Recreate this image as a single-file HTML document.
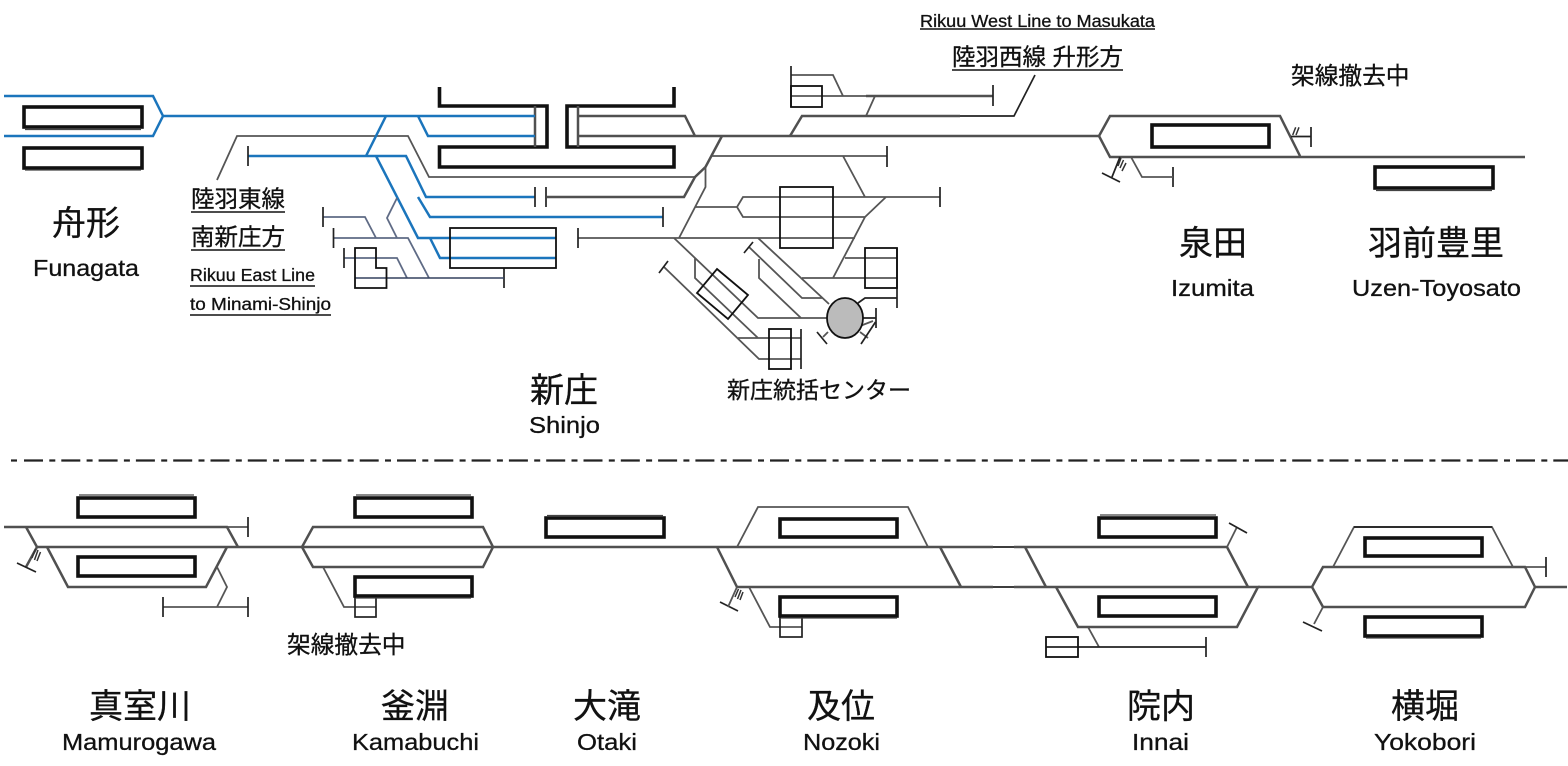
<!DOCTYPE html>
<html><head><meta charset="utf-8"><style>
html,body{margin:0;padding:0;background:#fff}
svg{display:block}
text{font-family:"Liberation Sans","Noto Sans CJK JP",sans-serif;fill:#111;stroke:#111;stroke-width:.3;text-anchor:start}
.g{fill:none;stroke:#505050;stroke-width:2.500}
.t{fill:none;stroke:#555;stroke-width:1.800}
.k{fill:none;stroke:#222;stroke-width:1.700}
.b{fill:none;stroke:#1b75bc;stroke-width:2.500}
.n{fill:none;stroke:#5f6b85;stroke-width:1.800}
.r{fill:none;stroke:#111;stroke-width:1.800}
.p{fill:none;stroke:#111;stroke-width:3.600}
.h{fill:none;stroke:#444;stroke-width:1.300}
.s{fill:none;stroke:#333;stroke-width:1.500}
.u{stroke:#111;stroke-width:1.600}
</style></head><body>
<svg width="1568" height="766" viewBox="0 0 1568 766" xmlns="http://www.w3.org/2000/svg">
<!-- Funagata platforms -->
<rect class="p" x="24" y="107" width="118" height="20"/><path class="h" d="M25 129.500H141"/>
<rect class="p" x="24" y="148" width="118" height="20"/><path class="h" d="M25 170H141"/>
<!-- Shinjo platforms -->
<path class="p" d="M439.500 87V106H547V147H439.500V167H674V147H567V106H674V87"/>
<!-- Gray lines west -->
<path class="t" d="M217 180L237 136H408L429 177H695"/>
<path class="g" d="M535 106V147M578 106V147"/>
<!-- Blue -->
<path class="b" d="M4 96H153L163 116L153 136H4M163 116H535M386 116L366 156M418 116L428 136H535M248 156H406L426 197H535M376 156L418 238H556M430 238L440 258H556M418 197L430 217H663"/>
<path class="k" d="M248 146V166M535 187V207M663 207V227"/>
<!-- Blue-grey sidings -->
<path class="n" d="M323 217H365L376 238M333 238H408L429 278M344 258H397L407 278M397 198L387 218L397 238"/>
<path class="k" d="M323 207V227M333.500 228V248M344 248V268M504 268V288"/>
<path style="fill:none;stroke:#33415f;stroke-width:1.500" d="M355 278H504"/>
<rect class="r" x="450" y="228" width="106" height="40"/>
<path class="r" d="M355 248H376V268H386.500V288H355Z"/>
<!-- Main line centre -->
<path class="g" d="M578 136H1099L1110 116H1280L1300 156M1099 136L1110 157H1525M578 116H685L695 136"/>
<path class="g" d="M722 136L705.500 167L695 177L684 197H547"/>
<path class="k" d="M546 187V207"/>
<path class="t" d="M712 156H887M843 156L865 197H940M886 197L865 217H743L737 207L743 197H865M705.500 167V187L679 238M695 207H737M865 217L833 278M578 238H855M845 258H897M802 278H897"/>
<path class="k" d="M887 146V167M940 187V207M578 228V248M897 248V308M876 308V328"/>
<path class="k" d="M858 303L865 298H897"/>
<rect class="r" x="780" y="187" width="53" height="61"/>
<rect class="r" x="865" y="248" width="32" height="40"/>
<!-- South yard -->
<path class="t" d="M674 238L758 318H828M758 238L829 304M749 247L802 298H823M759 259V278L801 318M695 258V278L758 338H801M664 267L759 359H801M738 338H758"/>
<path class="k" d="M744 253L753 242M659 273L668 261M801 329V369M876 318H862"/>
<path class="r" d="M717 269L748 295L728 319L697 293Z"/>
<rect class="r" x="769" y="329" width="22" height="40"/>
<path class="t" d="M860 326L873 321M860 332L868 338M828 332L823 337"/>
<path class="k" d="M875.500 322L861 344M817 332L827 344"/>
<ellipse cx="845" cy="318" rx="18" ry="20" fill="#bbb" stroke="#111" stroke-width="1.800"/>
<!-- North branch -->
<path class="t" d="M791 75H833L843 96M791 96H915M875 96L866 116"/>
<path class="g" d="M790 136L802 116H960M866 96H993"/>
<path class="k" d="M960 116H1014L1035 75"/>
<path class="k" d="M791 66V107M993 85V106"/>
<rect class="r" x="791" y="86" width="31" height="21"/>
<!-- Izumita -->
<rect class="p" x="1152" y="125" width="117" height="22"/>
<path class="s" d="M1295.700 127.300L1292.700 135M1299 127.300L1296 135M1121 158L1118 166M1123.500 160L1120 168M1126 163L1122 171"/>
<path class="k" d="M1291 136.500H1311M1311 127V147M1102 173L1120 182M1120 157L1112 177M1173 167V187"/>
<path class="t" d="M1131 157L1142 177H1173"/>
<rect class="p" x="1375" y="167" width="118" height="21"/><path class="h" d="M1376 190.500H1492"/>
<!-- Divider -->
<path d="M11 460.500H17" stroke="#222" stroke-width="2.200"/>
<path d="M24 460.500H1568" stroke="#222" stroke-width="2.200" stroke-dasharray="19 6.300 6 6"/>
<!-- Mamurogawa -->
<path class="g" d="M4 527H227L238 547M37 547H717M26 527L37 547L26 567M47 547L68 587H206L227 547"/>
<path class="t" d="M227 527H248M217 567L227 587L217 607M163 607H248"/>
<path class="k" d="M248 517V537M163 597V617M248 597V617M17 563L36 572"/>
<path class="s" d="M35.500 549L32 558M38 550L34.500 560M40.500 552L37 561"/>
<rect class="p" x="78" y="498" width="117" height="19"/><path class="h" d="M79 495H194"/>
<rect class="p" x="78" y="557" width="117" height="19"/>
<!-- Kamabuchi -->
<path class="g" d="M302 547L313 527H483L493 547L483 567H313L302 547"/>
<path class="t" d="M323 567L344 607H376"/>
<rect class="k" x="355" y="597" width="21" height="20"/>
<rect class="p" x="355" y="498" width="117" height="19"/><path class="h" d="M356 495H471"/>
<rect class="p" x="355" y="577" width="117" height="19"/><path class="h" d="M356 598H471"/>
<!-- Otaki -->
<rect class="p" x="546" y="518" width="118" height="19"/><path class="h" d="M547 515.500H663"/>
<!-- Nozoki / Innai -->
<path class="g" d="M717 547H993M1014 547H1227L1248 587M717 547L737 587H993M1014 587H1258L1237 627H1078L1056 587M940 547L961 587M1025 547L1046 587"/>
<path class="k" d="M993 547H1014M993 587H1014"/>
<path class="t" d="M737 547L758 507H908L928 547M749 587L770 627H802"/>
<rect class="k" x="780" y="617" width="22" height="20"/>
<rect class="p" x="780" y="519" width="117" height="18"/>
<rect class="p" x="780" y="597" width="117" height="19"/><path class="h" d="M781 618H897"/>
<path class="k" d="M720 602L738 611"/>
<path class="t" d="M737 587L728 607"/>
<path class="s" d="M738.500 589L735 597M741 590L737.500 599M743 592L740 600"/>
<path class="t" d="M1088 627L1099 647M1227 547L1237 527"/>
<path class="k" d="M1046 647H1206M1206 637V657M1229 523L1247 533"/>
<rect class="r" x="1046" y="637" width="32" height="20"/>
<rect class="p" x="1099" y="518" width="117" height="19"/><path class="h" d="M1100 515H1216"/>
<rect class="p" x="1099" y="597" width="117" height="19"/>
<!-- Yokobori -->
<path class="g" d="M1258 587H1312L1323 567H1525L1535 587L1525 607H1323L1312 587M1535 587H1567"/>
<path class="t" d="M1333 567L1354 527H1492L1513 567M1525 567H1546M1323 607L1314 624"/>
<path class="k" d="M1354 527H1492M1546 557V577M1303 622L1322 631"/>
<rect class="p" x="1365" y="538" width="117" height="18"/>
<rect class="p" x="1365" y="617" width="117" height="19"/><path class="h" d="M1366 638H1481"/>
<!-- Underlines -->
<path class="u" d="M191 212H285M191 250H285M190 286H315M190 315H331M920 29H1155M952 70H1123"/>
<!-- Labels -->
<text x="52" y="235" font-size="34">舟形</text>
<text x="33" y="276" font-size="23" textLength="106" lengthAdjust="spacingAndGlyphs">Funagata</text>
<text x="191" y="207" font-size="23.500">陸羽東線</text>
<text x="191" y="245" font-size="23.500">南新庄方</text>
<text x="190" y="281" font-size="17.500" textLength="125" lengthAdjust="spacingAndGlyphs">Rikuu East Line</text>
<text x="190" y="310" font-size="17.500" textLength="141" lengthAdjust="spacingAndGlyphs">to Minami-Shinjo</text>
<text x="530" y="402" font-size="34">新庄</text>
<text x="529" y="433" font-size="23" textLength="71" lengthAdjust="spacingAndGlyphs">Shinjo</text>
<text x="727" y="398" font-size="23">新庄統括センター</text>
<text x="920" y="27" font-size="17.500" textLength="235" lengthAdjust="spacingAndGlyphs">Rikuu West Line to Masukata</text>
<text x="952" y="65" font-size="23.500" textLength="171" lengthAdjust="spacing">陸羽西線 升形方</text>
<text x="1291" y="84" font-size="23.700">架線撤去中</text>
<text x="1179" y="255" font-size="34">泉田</text>
<text x="1171" y="296" font-size="23" textLength="83" lengthAdjust="spacingAndGlyphs">Izumita</text>
<text x="1368" y="255" font-size="34">羽前豊里</text>
<text x="1352" y="296" font-size="23" textLength="169" lengthAdjust="spacingAndGlyphs">Uzen-Toyosato</text>
<text x="287" y="653" font-size="23.700">架線撤去中</text>
<text x="89" y="718" font-size="34">真室川</text>
<text x="62" y="750" font-size="23" textLength="154" lengthAdjust="spacingAndGlyphs">Mamurogawa</text>
<text x="381" y="718" font-size="34">釜淵</text>
<text x="352" y="750" font-size="23" textLength="127" lengthAdjust="spacingAndGlyphs">Kamabuchi</text>
<text x="573" y="718" font-size="34">大滝</text>
<text x="577" y="750" font-size="23" textLength="60" lengthAdjust="spacingAndGlyphs">Otaki</text>
<text x="807" y="718" font-size="34">及位</text>
<text x="803" y="750" font-size="23" textLength="77" lengthAdjust="spacingAndGlyphs">Nozoki</text>
<text x="1127" y="718" font-size="34">院内</text>
<text x="1132" y="750" font-size="23" textLength="57" lengthAdjust="spacingAndGlyphs">Innai</text>
<text x="1391" y="718" font-size="34">横堀</text>
<text x="1374" y="750" font-size="23" textLength="102" lengthAdjust="spacingAndGlyphs">Yokobori</text>
</svg>
</body></html>
